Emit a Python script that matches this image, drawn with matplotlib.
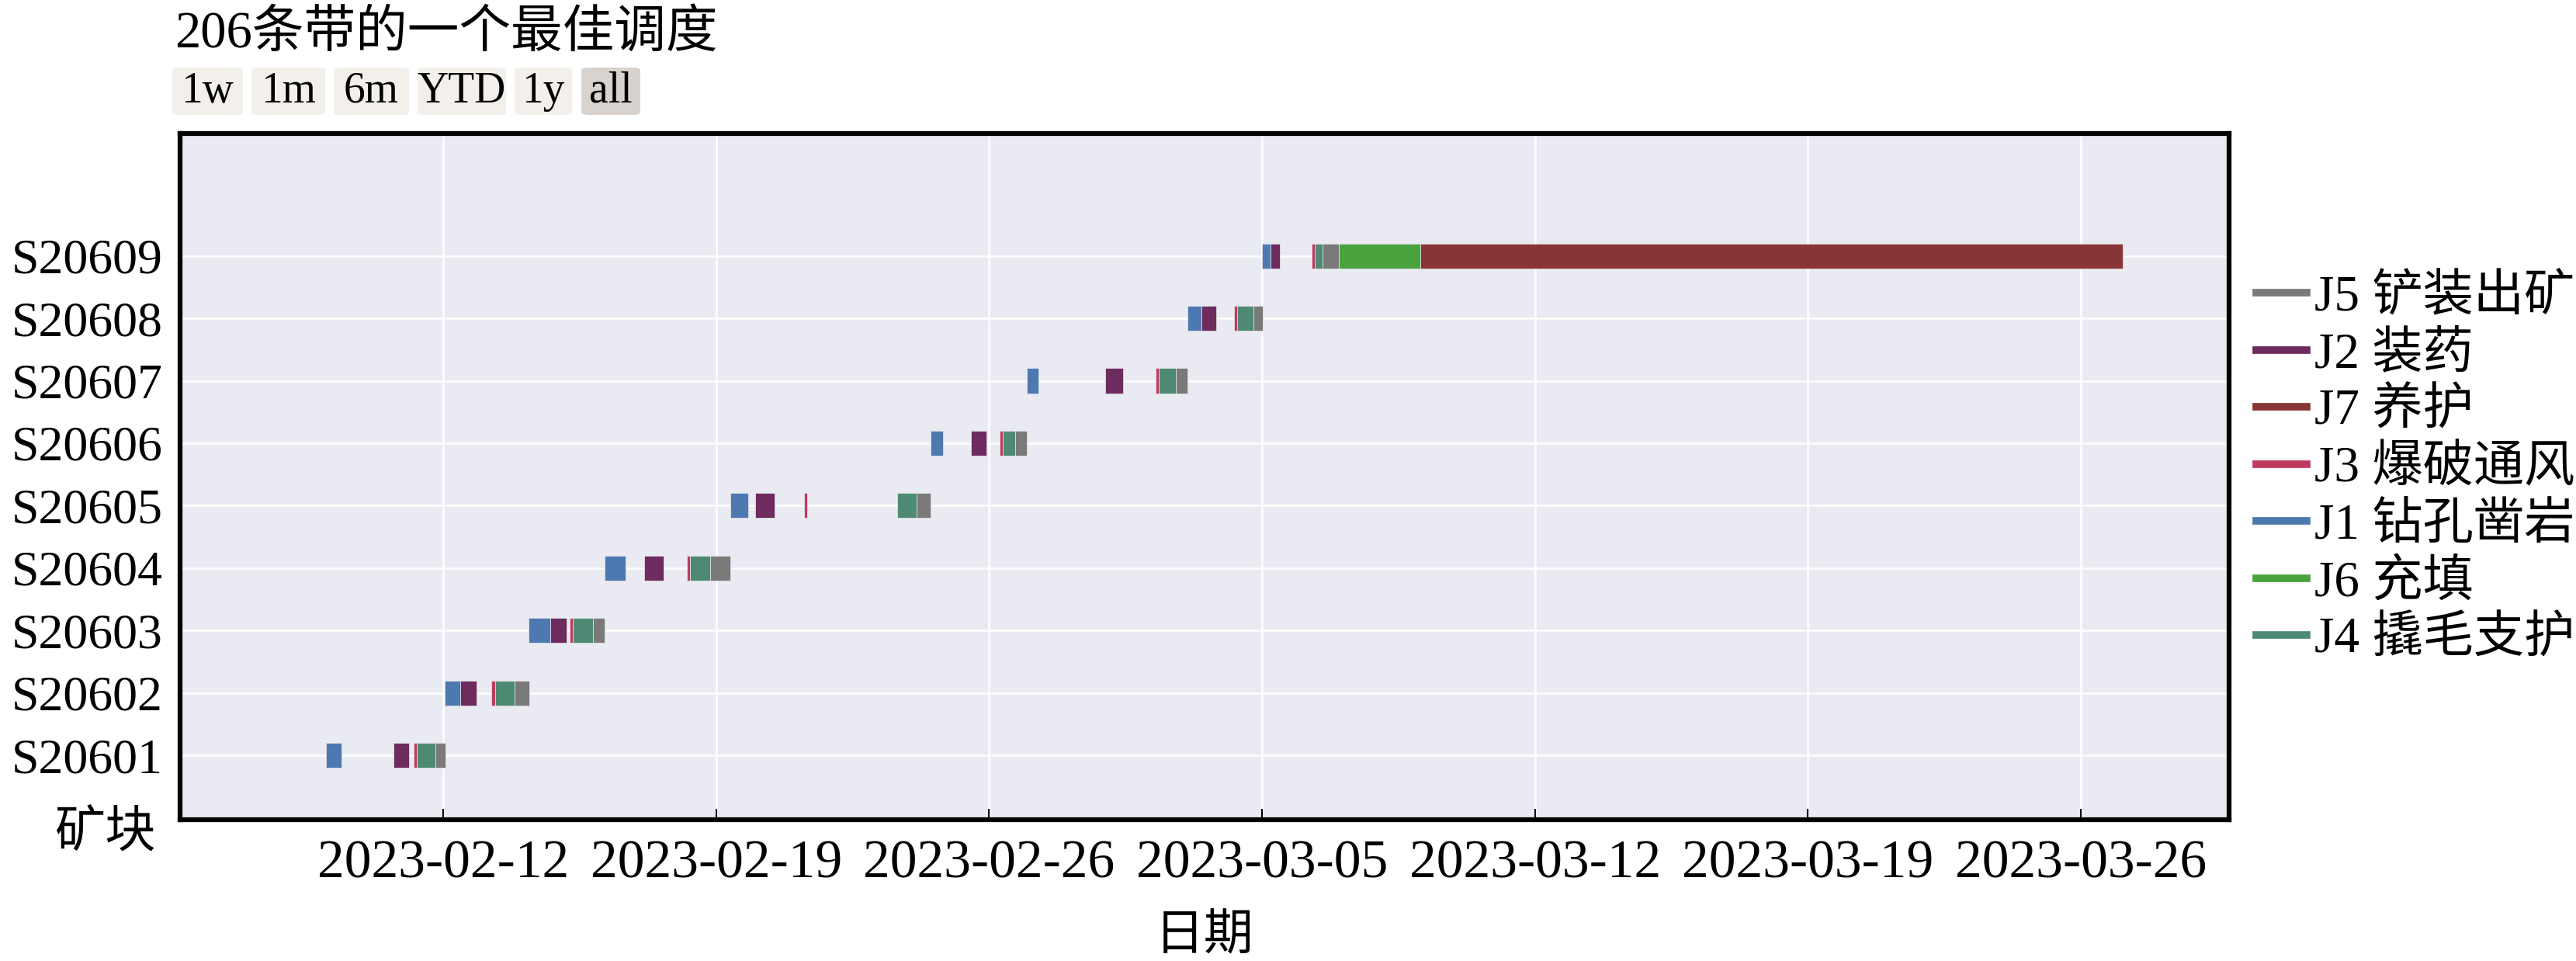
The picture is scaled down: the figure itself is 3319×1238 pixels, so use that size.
import pandas as pd
import matplotlib.pyplot as plt
import matplotlib.dates as mdates
from matplotlib.lines import Line2D
from matplotlib.patches import FancyBboxPatch

plt.rcParams['font.family'] = ['Liberation Serif', 'Noto Sans CJK SC', 'DejaVu Sans']

# blocks (y categories, bottom to top)
blocks = ['S20601', 'S20602', 'S20603', 'S20604', 'S20605',
          'S20606', 'S20607', 'S20608', 'S20609']

# J1 钻孔凿岩
j1_start = ['2023-02-09 00:00', '2023-02-12 01:06', '2023-02-14 04:41', '2023-02-16 03:13', '2023-02-19 08:45',
            '2023-02-24 12:09', '2023-02-26 23:24', '2023-03-03 02:18', '2023-03-05 00:00']
j1_end = ['2023-02-09 09:15', '2023-02-12 10:22', '2023-02-14 17:55', '2023-02-16 16:16', '2023-02-19 19:44',
          '2023-02-24 19:30', '2023-02-27 06:24', '2023-03-03 10:54', '2023-03-05 05:06']
# J2 装药
j2_start = ['2023-02-10 17:17', '2023-02-12 10:22', '2023-02-14 17:55', '2023-02-17 03:44', '2023-02-20 00:11',
            '2023-02-25 12:51', '2023-02-28 23:30', '2023-03-03 10:54', '2023-03-05 05:06']
j2_end = ['2023-02-11 03:00', '2023-02-12 20:24', '2023-02-15 03:57', '2023-02-17 15:49', '2023-02-20 12:08',
          '2023-02-25 22:24', '2023-03-01 10:36', '2023-03-03 19:42', '2023-03-05 10:48']
# J3 爆破通风
j3_start = ['2023-02-11 05:51', '2023-02-13 05:46', '2023-02-15 06:01', '2023-02-18 06:09', '2023-02-21 06:00',
            '2023-02-26 06:23', '2023-03-02 06:24', '2023-03-04 06:30', '2023-03-06 06:24']
j3_end = ['2023-02-11 07:37', '2023-02-13 07:52', '2023-02-15 07:55', '2023-02-18 07:55', '2023-02-21 07:54',
          '2023-02-26 08:26', '2023-03-02 08:18', '2023-03-04 08:36', '2023-03-06 08:30']
# J4 撬毛支护
j4_start = ['2023-02-11 07:37', '2023-02-13 07:52', '2023-02-15 07:55', '2023-02-18 07:55', '2023-02-23 15:36',
            '2023-02-26 08:26', '2023-03-02 08:18', '2023-03-04 08:36', '2023-03-06 08:30']
j4_end = ['2023-02-11 19:05', '2023-02-13 20:05', '2023-02-15 20:12', '2023-02-18 20:11', '2023-02-24 03:16',
          '2023-02-26 16:12', '2023-03-02 19:00', '2023-03-04 18:54', '2023-03-06 13:24']
# J5 铲装出矿
j5_start = ['2023-02-11 19:05', '2023-02-13 20:05', '2023-02-15 20:12', '2023-02-18 20:11', '2023-02-24 03:16',
            '2023-02-26 16:12', '2023-03-02 19:00', '2023-03-04 18:54', '2023-03-06 13:24']
j5_end = ['2023-02-12 01:17', '2023-02-14 04:53', '2023-02-16 03:31', '2023-02-19 08:45', '2023-02-24 12:09',
          '2023-02-26 23:24', '2023-03-03 02:06', '2023-03-05 00:24', '2023-03-06 23:06']
# J6 充填, J7 养护 (only last block)
j6_block = ['S20609']
j6_start = ['2023-03-06 23:06']
j6_end = ['2023-03-09 01:24']
j7_block = ['S20609']
j7_start = ['2023-03-09 01:24']
j7_end = ['2023-03-27 01:42']

# legend order
task_names = ['J5 铲装出矿', 'J2 装药', 'J7 养护', 'J3 爆破通风', 'J1 钻孔凿岩', 'J6 充填', 'J4 撬毛支护']
task_colors = ['#7a7a7a', '#6d2c5d', '#883535', '#c03a5f', '#4e78b0', '#4aa23f', '#4e8a73']
task_data = [(blocks, j5_start, j5_end), (blocks, j2_start, j2_end), (j7_block, j7_start, j7_end),
             (blocks, j3_start, j3_end), (blocks, j1_start, j1_end), (j6_block, j6_start, j6_end),
             (blocks, j4_start, j4_end)]

W, H = 3319, 1238
fig = plt.figure(figsize=(W / 100, H / 100), dpi=100)
ax = fig.add_axes([232 / W, 1 - 1056 / H, (2872 - 232) / W, (1056 - 172) / H])
ax.set_facecolor('#eaeaf2')

for name, color, (blk, st, en) in zip(task_names, task_colors, task_data):
    ypos = [blocks.index(b) for b in blk]
    s = mdates.date2num(pd.to_datetime(st))
    e = mdates.date2num(pd.to_datetime(en))
    ax.barh(ypos, e - s, left=s, height=0.4, color=color,
            edgecolor='#eaeaf2', linewidth=0.5, zorder=3)

ax.set_xlim(mdates.date2num(pd.Timestamp('2023-02-05 06:00')),
            mdates.date2num(pd.Timestamp('2023-03-29 19:10')))
ax.set_ylim(-1.03, 9.96)
ax.set_yticks(range(len(blocks)))
ax.set_yticklabels(blocks)
ax.xaxis.set_major_locator(mdates.DayLocator(bymonthday=[5, 12, 19, 26]))
ax.xaxis.set_major_formatter(mdates.DateFormatter('%Y-%m-%d'))

ax.grid(True, color='white', linewidth=1.8, zorder=0)
ax.set_axisbelow(True)
ax.tick_params(axis='x', direction='in', length=10, width=1.5, labelsize=50, pad=19)
ax.tick_params(axis='y', length=0, labelsize=46, pad=16)
for sp in ax.spines.values():
    sp.set_linewidth(4.5)
    sp.set_color('black')

ax.set_xlabel('日期', fontsize=46, labelpad=24)
fig.text(135 / W, 1 - 1074 / H, '矿块', fontsize=47, ha='center', va='center')

fig.text(225 / W, 1 - 44 / H, '206条带的一个最佳调度', fontsize=48, ha='left', va='center')

# range selector buttons
btn_labels = ['1w', '1m', '6m', 'YTD', '1y', 'all']
btn_x = [(222, 313), (324, 419), (430, 527), (538, 652), (663, 737), (749, 825)]
for lab, (x0, x1) in zip(btn_labels, btn_x):
    fc = '#d8d3ce' if lab == 'all' else '#f3f0ec'
    fig.patches.append(FancyBboxPatch((x0 / W, 1 - 148 / H), (x1 - x0) / W, 61 / H,
                                      boxstyle='round,pad=0,rounding_size=0.003',
                                      transform=fig.transFigure, fc=fc, ec='none'))
    fig.text((x0 + x1) / 2 / W, 1 - 118 / H, lab, fontsize=40, ha='center', va='center')

handles = [Line2D([0], [0], color=c, lw=7) for c in task_colors]
fig.legend(handles, task_names, loc='upper left', bbox_to_anchor=(2907 / W, 1 - 353 / H),
           frameon=False, fontsize=47, handlelength=1.0, handletextpad=0.15,
           labelspacing=0.20, borderpad=0, borderaxespad=0)

fig.savefig('out.png', dpi=100)
